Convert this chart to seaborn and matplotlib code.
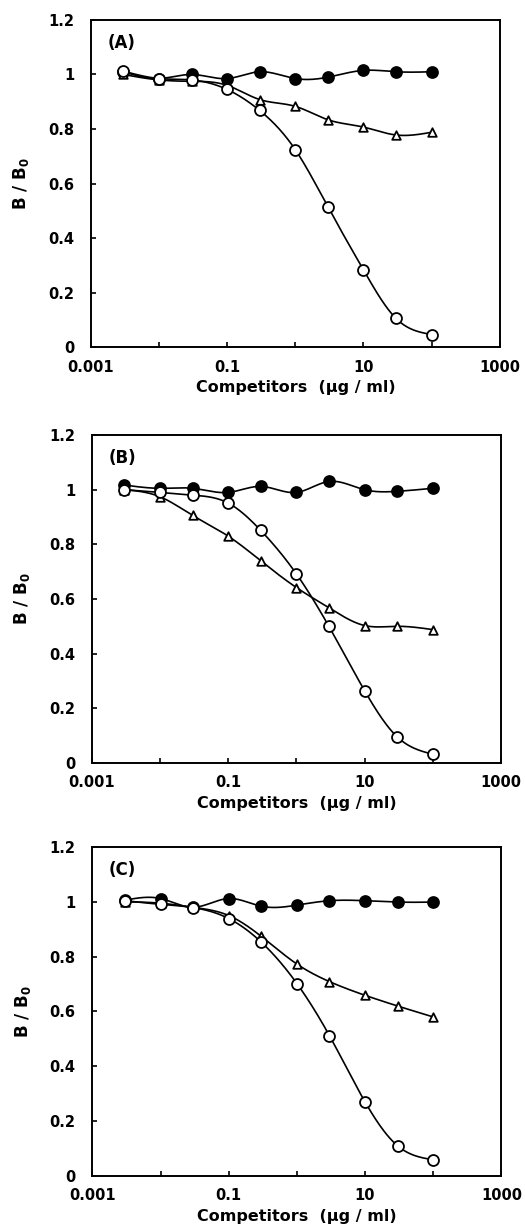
import numpy as np
import pandas as pd
import matplotlib
matplotlib.use("Agg")
import matplotlib.pyplot as plt
import seaborn as sns

sns.set_theme(style="white")
plt.rcParams['font.family'] = ['DejaVu Sans']
plt.rcParams['font.weight'] = 'bold'
plt.rcParams['mathtext.default'] = 'bf'
plt.rcParams['mathtext.fontset'] = 'dejavusans'

# ---- data ----
conc = [0.003, 0.01, 0.03, 0.1, 0.3, 1, 3, 10, 30, 100]

A_filled = [1.01, 0.985, 1.00, 0.985, 1.01, 0.985, 0.99, 1.015, 1.01, 1.01]
A_open = [1.012, 0.985, 0.98, 0.945, 0.868, 0.724, 0.515, 0.283, 0.105, 0.046]
A_tri = [1.00, 0.98, 0.975, 0.96, 0.908, 0.883, 0.834, 0.807, 0.778, 0.788]

B_filled = [1.017, 1.005, 1.005, 0.99, 1.012, 0.99, 1.03, 1.0, 0.994, 1.005]
B_open = [1.0, 0.99, 0.98, 0.951, 0.851, 0.692, 0.50, 0.265, 0.096, 0.032]
B_tri = [1.0, 0.974, 0.906, 0.83, 0.74, 0.642, 0.568, 0.503, 0.50, 0.488]

C_filled = [1.006, 1.012, 0.98, 1.012, 0.984, 0.988, 1.004, 1.004, 0.999, 0.999]
C_open = [1.004, 0.991, 0.979, 0.939, 0.853, 0.702, 0.512, 0.27, 0.11, 0.059]
C_tri = [1.0, 0.995, 0.98, 0.95, 0.874, 0.773, 0.709, 0.659, 0.62, 0.58]

panel_labels = ["(A)", "(B)", "(C)"]
xtick_vals = [0.001, 0.01, 0.1, 1, 10, 100, 1000]
xtick_labels = ["0.001", "", "0.1", "", "10", "", "1000"]
ytick_vals = [0, 0.2, 0.4, 0.6, 0.8, 1.0, 1.2]
ytick_labels = ["0", "0.2", "0.4", "0.6", "0.8", "1", "1.2"]


def natural_spline(x, y, n=300):
    x = np.asarray(x, float)
    y = np.asarray(y, float)
    m = len(x)
    h = np.diff(x)
    A = np.zeros((m, m))
    r = np.zeros(m)
    A[0, 0] = 1
    A[-1, -1] = 1
    for i in range(1, m - 1):
        A[i, i - 1] = h[i - 1]
        A[i, i] = 2 * (h[i - 1] + h[i])
        A[i, i + 1] = h[i]
        r[i] = 3 * ((y[i + 1] - y[i]) / h[i] - (y[i] - y[i - 1]) / h[i - 1])
    c = np.linalg.solve(A, r)
    b = np.zeros(m - 1)
    d = np.zeros(m - 1)
    for i in range(m - 1):
        b[i] = (y[i + 1] - y[i]) / h[i] - h[i] * (2 * c[i] + c[i + 1]) / 3
        d[i] = (c[i + 1] - c[i]) / (3 * h[i])
    xs = np.linspace(x[0], x[-1], n)
    idx = np.clip(np.searchsorted(x, xs) - 1, 0, m - 2)
    dx = xs - x[idx]
    ys = y[idx] + b[idx] * dx + c[idx] * dx ** 2 + d[idx] * dx ** 3
    return xs, ys


fig = plt.figure(figsize=(5.25, 12.32), dpi=100)
positions = [
    [0.173, 0.7183, 0.779, 0.2655],
    [0.175, 0.3807, 0.779, 0.2662],
    [0.176, 0.0455, 0.779, 0.2670],
]
panels = [
    (A_filled, A_tri, A_open),
    (B_filled, B_tri, B_open),
    (C_filled, C_tri, C_open),
]

lx = np.log10(conc)
for pos, (filled, tri, opn), lab in zip(positions, panels, panel_labels):
    ax = fig.add_axes(pos)
    for series, marker, fc, ms in [
        (filled, 'o', 'black', 62),
        (tri, '^', 'white', 38),
        (opn, 'o', 'white', 62),
    ]:
        xs, ys = natural_spline(lx, series)
        curve = pd.DataFrame({"x": 10 ** xs, "y": ys})
        sns.lineplot(data=curve, x="x", y="y", ax=ax, color='black',
                     linewidth=1.2, sort=False, estimator=None, zorder=2)
        pts = pd.DataFrame({"x": conc, "y": series})
        sns.scatterplot(data=pts, x="x", y="y", ax=ax, marker=marker,
                        s=ms, facecolor=fc, edgecolor='black',
                        linewidth=1.3, zorder=3)
    ax.set_xscale('log')
    ax.set_xlim(0.001, 1000)
    ax.set_ylim(0, 1.2)
    ax.set_xticks(xtick_vals)
    ax.set_xticklabels(xtick_labels)
    ax.minorticks_off()
    ax.set_yticks(ytick_vals)
    ax.set_yticklabels(ytick_labels)
    ax.tick_params(axis='both', which='major', direction='in', length=3.5,
                   width=1.2, labelsize=10.5, color='black', labelcolor='black',
                   bottom=True, left=True, top=False, right=False)
    ax.tick_params(axis='x', pad=9)
    ax.tick_params(axis='y', pad=12)
    for lbl in ax.get_xticklabels() + ax.get_yticklabels():
        lbl.set_fontweight('bold')
    for sp in ax.spines.values():
        sp.set_color('black')
        sp.set_linewidth(1.4)
    ax.set_xlabel("Competitors  (μg / ml)", fontsize=11.5, fontweight='bold',
                  labelpad=4, color='black')
    ax.set_ylabel("B / B$_0$", fontsize=12, fontweight='bold', labelpad=12,
                  color='black')
    ax.text(0.04, 0.93, lab, transform=ax.transAxes, fontsize=12,
            fontweight='bold', ha='left', va='center', color='black')

fig.savefig("out.png", dpi=100)
